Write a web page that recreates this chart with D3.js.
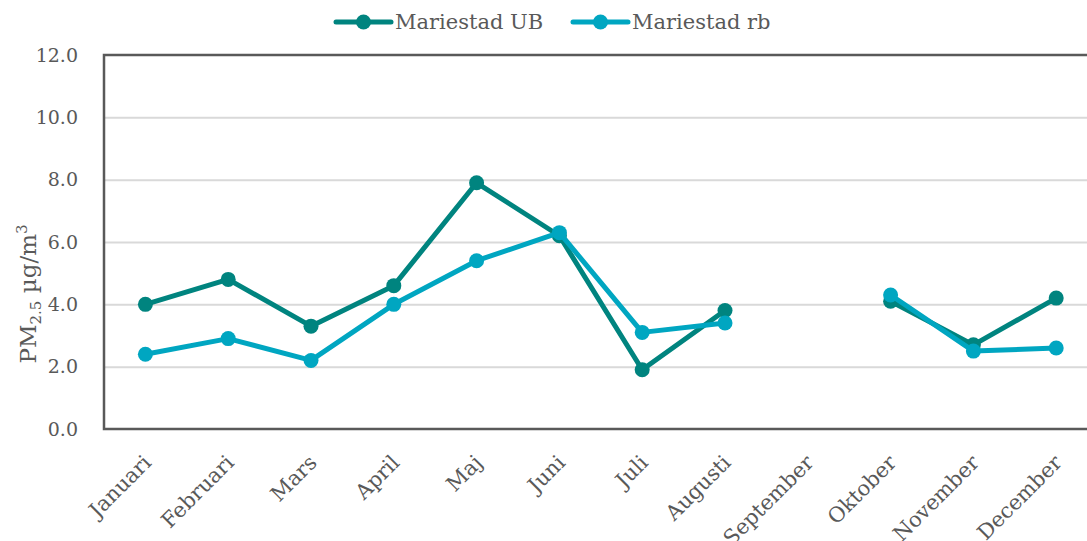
<!DOCTYPE html>
<html><head><meta charset="utf-8">
<script src="https://cdn.jsdelivr.net/npm/d3@7"></script>
<style>
body{margin:0;background:#fff;}
text{font-family:"DejaVu Serif",serif;fill:#595959;}
</style></head>
<body><svg id="c" width="1087" height="541"></svg>
<script>
const months = ["Januari","Februari","Mars","April","Maj","Juni","Juli","Augusti","September","Oktober","November","December"];
const seriesNames = ["Mariestad UB","Mariestad rb"];
const ubValues = [4.0,4.8,3.3,4.6,7.9,6.2,1.9,3.8,null,4.1,2.7,4.2];
const rbValues = [2.4,2.9,2.2,4.0,5.4,6.3,3.1,3.4,null,4.3,2.5,2.6];
const yTicks = [0,2,4,6,8,10,12];
const colors = ["#00847F","#00A6C1"];

const svg = d3.select("#c");
const L=104, R=1097.6, T=55, B=429;
const x = d3.scaleBand().domain(months).range([L,R]).padding(0);
const y = d3.scaleLinear().domain([0,12]).range([B,T]);
const cx = d => x(d)+x.bandwidth()/2;

// gridlines
svg.append("g").attr("transform",`translate(${L},0)`)
  .call(d3.axisLeft(y).tickValues(yTicks.slice(1,-1)).tickSize(-(R-L)).tickFormat(""))
  .call(g=>g.select(".domain").remove())
  .call(g=>g.selectAll("line").attr("stroke","#d9d9d9").attr("stroke-width",2));

// border
svg.append("path").attr("d",`M${R},${T}H${L}V${B}H${R}`).attr("fill","none").attr("stroke","#595959").attr("stroke-width",2.5);

// y axis labels
svg.append("g").attr("transform",`translate(${L},0)`)
  .call(d3.axisLeft(y).tickValues(yTicks).tickSize(0).tickPadding(26).tickFormat(d3.format(".1f")))
  .call(g=>g.select(".domain").remove())
  .call(g=>g.selectAll("text").attr("font-size",19).style("fill","#595959").attr("font-family","DejaVu Serif"));

// x axis labels
const xa = svg.append("g").attr("transform",`translate(0,${B})`)
  .call(d3.axisBottom(x).tickSize(0).tickFormat(d=>d))
  .call(g=>g.select(".domain").remove());
xa.selectAll(".tick text").attr("font-size",21).attr("font-family","DejaVu Serif").style("fill","#595959")
  .attr("text-anchor","end").attr("y",0).attr("dy",0)
  .attr("transform","translate(7,35) rotate(-45)");

// y title
const yt = svg.append("text").attr("transform","translate(36,294) rotate(-90)")
  .attr("text-anchor","middle").attr("font-size",23);
yt.append("tspan").text("PM");
yt.append("tspan").attr("font-size",15).attr("dy",5).text("2.5");
yt.append("tspan").attr("dy",-5).text(" µg/m");
yt.append("tspan").attr("font-size",15).attr("dy",-9).text("3");

// series
const data=[ubValues,rbValues];
data.forEach((vals,i)=>{
  const pts = months.map((m,j)=>({m,v:vals[j]}));
  const line = d3.line().defined(d=>d.v!=null).x(d=>cx(d.m)).y(d=>y(d.v));
  svg.append("path").datum(pts).attr("d",line).attr("fill","none")
    .attr("stroke",colors[i]).attr("stroke-width",5).attr("stroke-linejoin","round");
  svg.append("g").selectAll("circle").data(pts.filter(d=>d.v!=null)).join("circle")
    .attr("cx",d=>cx(d.m)).attr("cy",d=>y(d.v)).attr("r",7.5).attr("fill",colors[i]);
});

// legend
const legX=[336,573];
seriesNames.forEach((n,i)=>{
  const g=svg.append("g").attr("transform",`translate(${legX[i]},22)`);
  g.append("line").attr("x1",0).attr("x2",55).attr("stroke",colors[i]).attr("stroke-width",5).attr("stroke-linecap","round");
  g.append("circle").attr("cx",27.5).attr("r",7.5).attr("fill",colors[i]);
  g.append("text").attr("x",59).attr("y",7).attr("font-size",21).text(n);
});
</script></body></html>
